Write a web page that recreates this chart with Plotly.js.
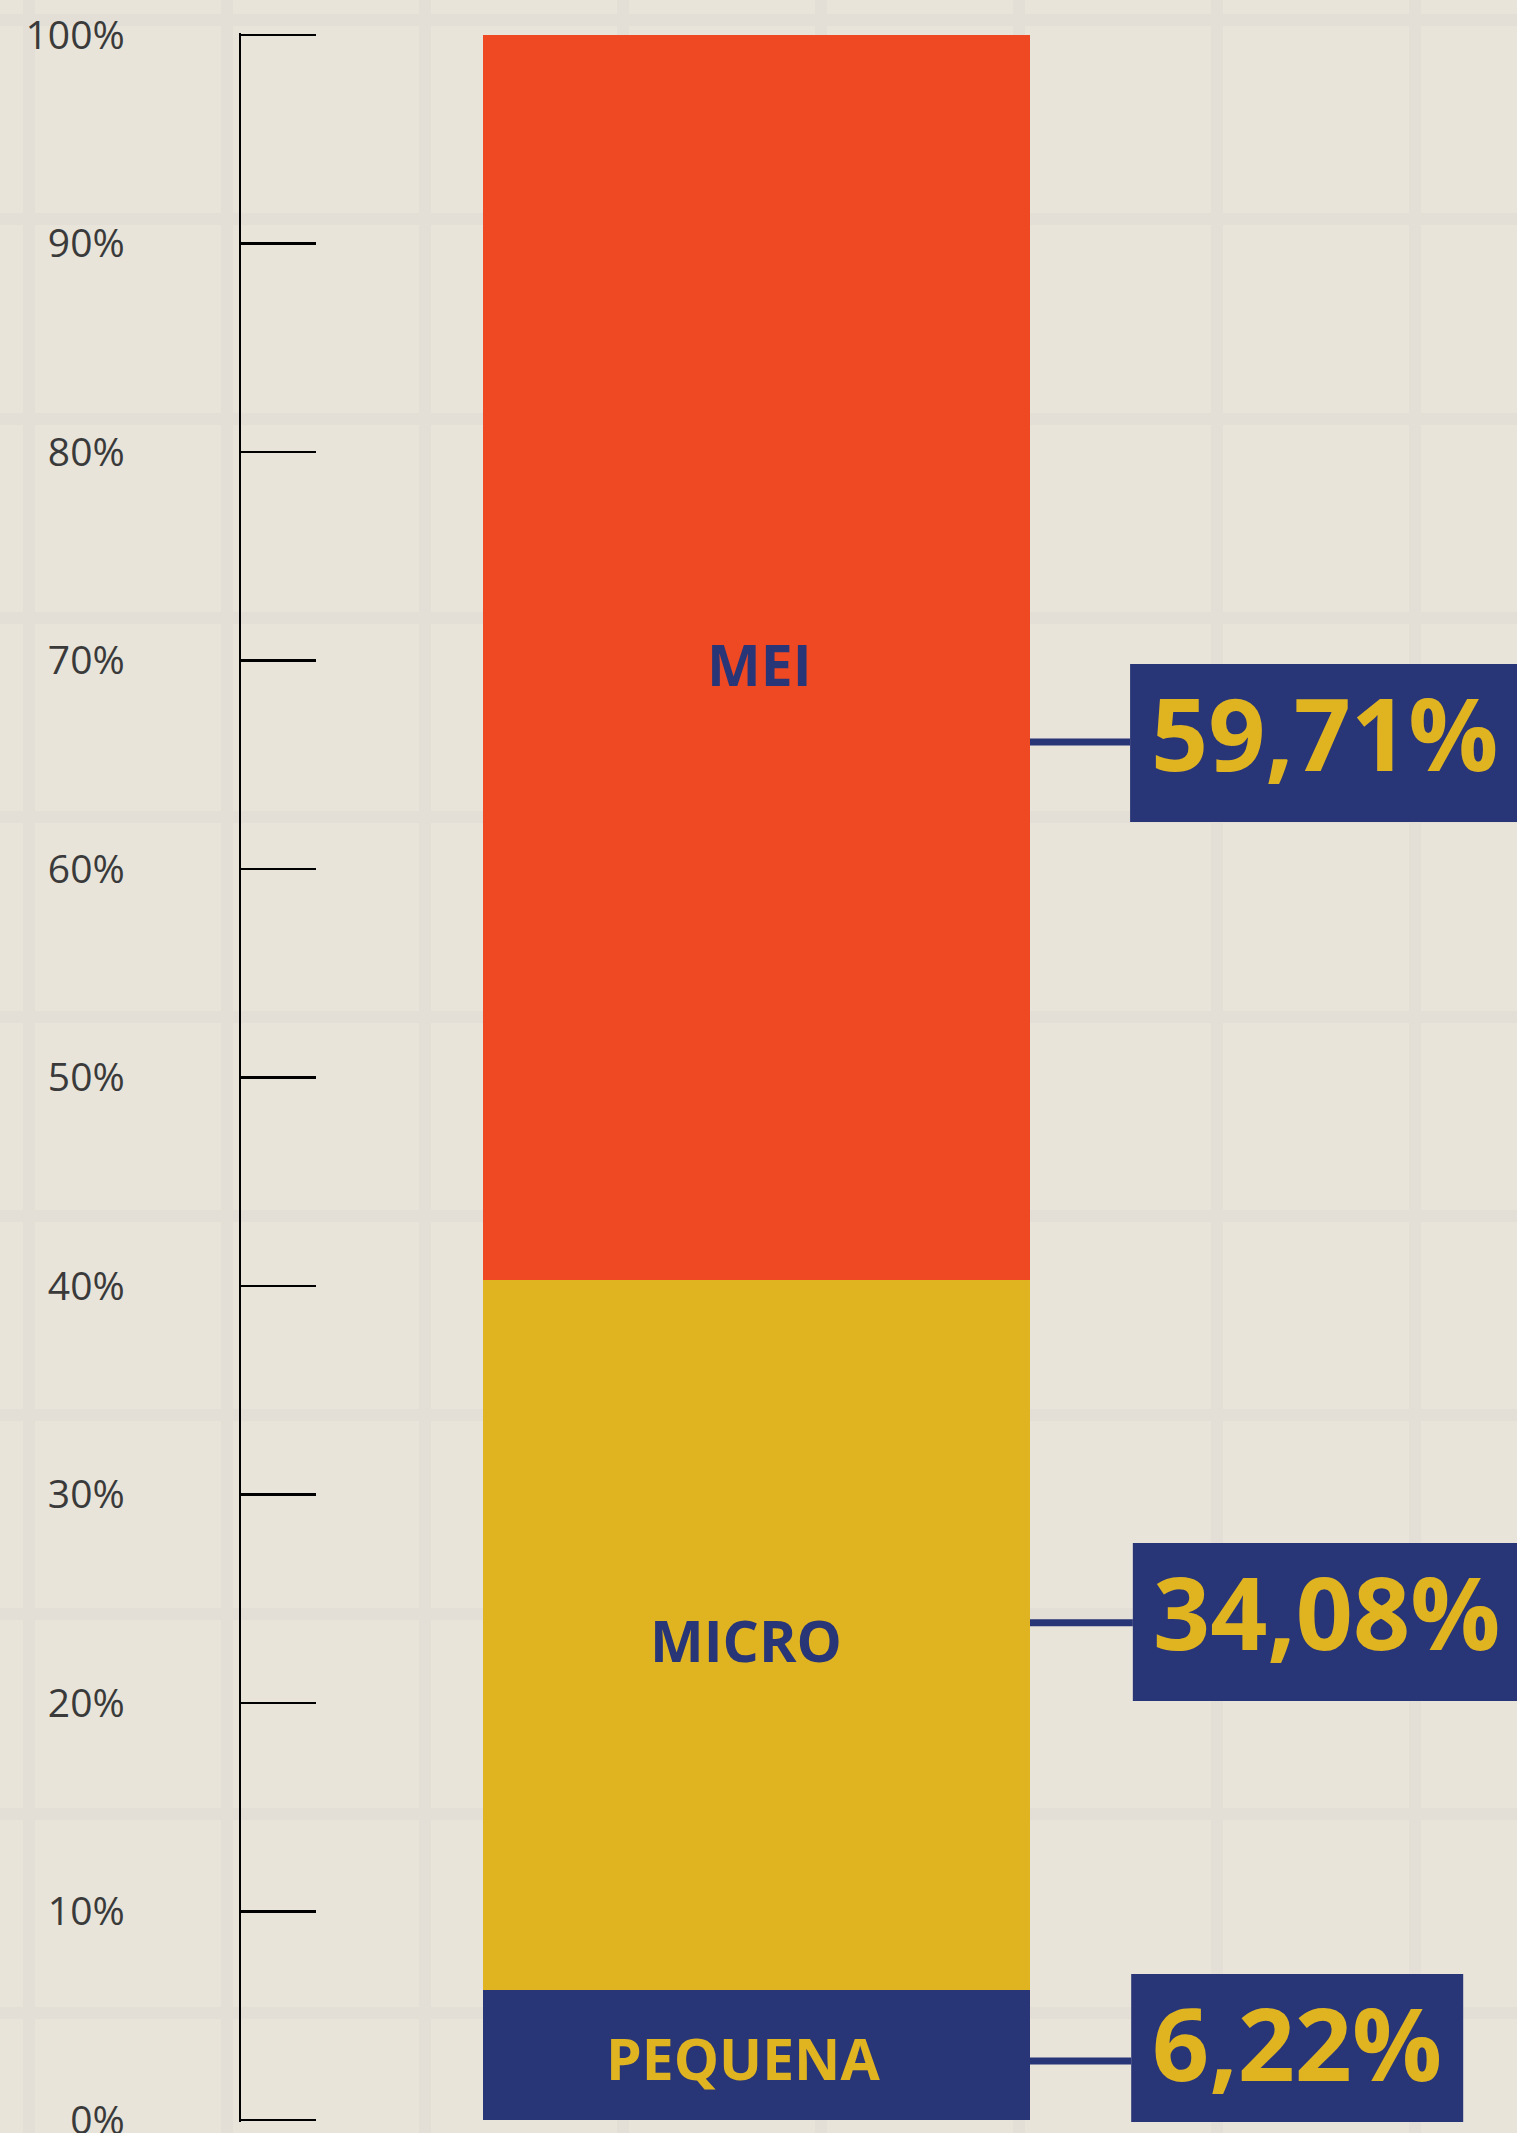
<!DOCTYPE html>
<html>
<head>
<meta charset="utf-8">
<script src="https://cdn.plot.ly/plotly-3.0.1.min.js"></script>
<style>
  html, body { margin:0; padding:0; }
  body {
    width:1517px; height:2133px; overflow:hidden;
    background-color:#E8E4DA;
    background-image:
      repeating-linear-gradient(to right, transparent 0px, transparent 23px, #E3DFD6 23px, #E3DFD6 35px, transparent 35px, transparent 198px),
      repeating-linear-gradient(to bottom, transparent 0px, transparent 14px, #E3DFD6 14px, #E3DFD6 26px, transparent 26px, transparent 199.3px);
  }
  #chart { width:1517px; height:2133px; }
</style>
</head>
<body>
<div id="chart"></div>
<script>
// ---- data ----
const categories = ["PEQUENA", "MICRO", "MEI"];          // stacked bottom -> top
const shares     = [6.22, 34.08, 59.71];                  // percent
const valueLabels = ["6,22%", "34,08%", "59,71%"];
const tickValues = [0, 10, 20, 30, 40, 50, 60, 70, 80, 90, 100];
const tickLabels = ["0%", "10%", "20%", "30%", "40%", "50%", "60%", "70%", "80%", "90%", "100%"];

// ---- styles ----
const NAVY = "#283577", GOLD = "#E0B421", RED = "#EE4923";
const barColors  = [NAVY, GOLD, RED];
const textColors = [GOLD, NAVY, NAVY];

const traces = categories.map((c, i) => ({
  type: "bar",
  x: [0],
  y: [shares[i]],
  width: 1,
  name: c,
  marker: { color: barColors[i], line: { width: 0 } },
  hoverinfo: "skip"
}));

// segment name labels, centred on each stacked segment (with small pixel nudges)
const nudges = [ {dx: -14, dy: -3}, {dx: -11, dy: -5}, {dx: 3, dy: -7} ];
let base = 0;
const segAnn = categories.map((c, i) => {
  const mid = base + shares[i] / 2;
  base += shares[i];
  return {
    xref: "x", yref: "y", x: 0, y: mid,
    xshift: nudges[i].dx, yshift: nudges[i].dy,
    text: "<b>" + c + "</b>", showarrow: false,
    xanchor: "center", yanchor: "middle",
    font: { family: "Open Sans, sans-serif", size: 57, color: textColors[i] }
  };
});

// callout boxes
const callouts = [
  { i: 2, by: 66.04, ly: 66.09, bx: 0.683, w: 388 },
  { i: 1, by: 23.88, ly: 23.85, bx: 0.688, w: 388 },
  { i: 0, by: 3.21,  ly: 2.83,  bx: 0.685, w: 332 }
];

const shapes = [];
callouts.forEach(c => {
  shapes.push({
    type: "line", xref: "x", yref: "y",
    x0: 0.5, x1: c.bx, y0: c.ly, y1: c.ly,
    line: { color: NAVY, width: 7 }, layer: "above"
  });
  shapes.push({
    type: "rect", xref: "x", yref: "y",
    xsizemode: "pixel", xanchor: c.bx, x0: 0, x1: c.w,
    ysizemode: "pixel", yanchor: c.by, y0: -79, y1: 79,
    fillcolor: NAVY, line: { width: 0 }, layer: "above"
  });
});

const valAnn = callouts.map(c => ({
  xref: "x", yref: "y", x: c.bx, y: c.by,
  xanchor: "center", yanchor: "middle",
  xshift: c.w / 2, yshift: 11,
  text: "<b>" + valueLabels[c.i] + "</b>",
  showarrow: false,
  font: { family: "Open Sans, sans-serif", size: 100, color: GOLD }
}));

const layout = {
  width: 1517, height: 2133,
  margin: { l: 241, r: 0, t: 33, b: 11, pad: 0 },
  paper_bgcolor: "rgba(0,0,0,0)",
  plot_bgcolor: "rgba(0,0,0,0)",
  barmode: "stack",
  bargap: 0,
  showlegend: false,
  hovermode: false,
  xaxis: {
    range: [-0.9424, 1.3903], visible: false, fixedrange: true
  },
  yaxis: {
    range: [-0.1, 100.1],
    tickvals: tickValues, ticktext: tickLabels,
    ticks: "inside", ticklen: 75, tickwidth: 2.5, tickcolor: "#000",
    showline: true, linecolor: "#000", linewidth: 2.5,
    showgrid: false, zeroline: false,
    ticklabelstandoff: 106,
    ticklabeloverflow: "allow",
    tickfont: { family: "Open Sans, sans-serif", size: 39, color: "#3a3a3a" },
    fixedrange: true
  },
  shapes: shapes,
  annotations: segAnn.concat(valAnn),
  font: { family: "Open Sans, sans-serif" }
};

Plotly.newPlot("chart", traces, layout, { displayModeBar: false, staticPlot: true });
</script>
</body>
</html>
